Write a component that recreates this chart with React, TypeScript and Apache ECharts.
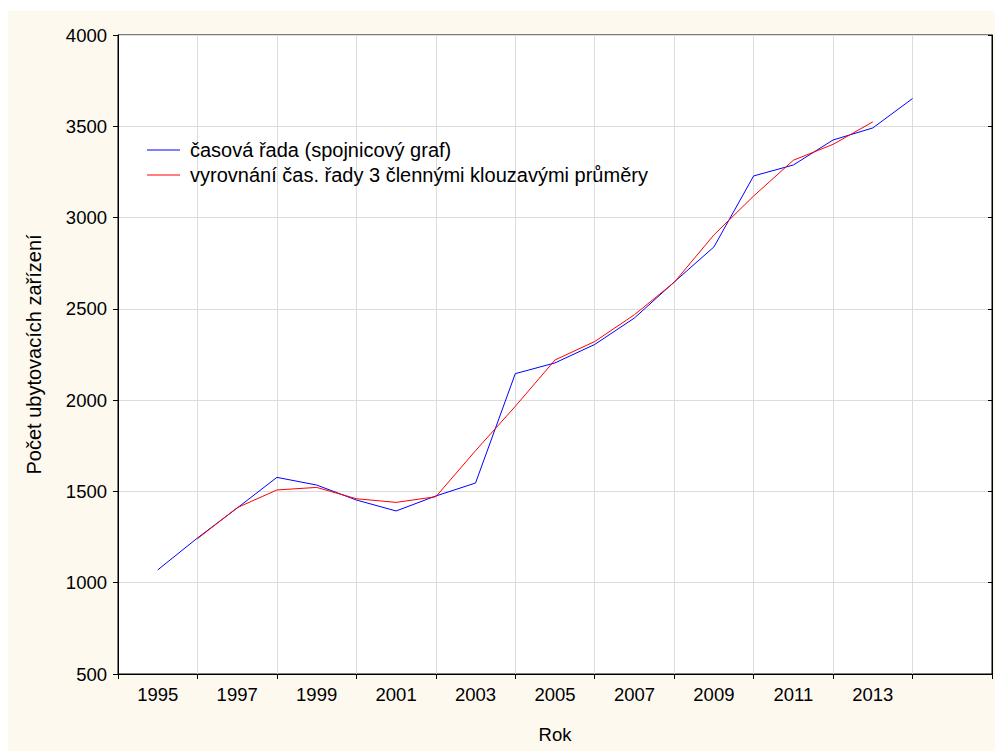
import React, { useEffect, useRef } from "react";
import * as echarts from "echarts";

const years = [1995, 1996, 1997, 1998, 1999, 2000, 2001, 2002, 2003, 2004, 2005, 2006, 2007, 2008, 2009, 2010, 2011, 2012, 2013, 2014];
const seriesValues = [1070, 1245, 1409, 1577, 1535, 1453, 1393, 1475, 1546, 2145, 2204, 2305, 2450, 2647, 2839, 3228, 3288, 3425, 3491, 3652];
const maYears = [1996, 1997, 1998, 1999, 2000, 2001, 2002, 2003, 2004, 2005, 2006, 2007, 2008, 2009, 2010, 2011, 2012, 2013];
const maValues = [1241, 1411, 1508, 1522, 1460, 1440, 1471, 1723, 1966, 2220, 2321, 2468, 2645, 2905, 3118, 3314, 3401, 3524];
const xTickLabels = ["1995", "1997", "1999", "2001", "2003", "2005", "2007", "2009", "2011", "2013"];
const seriesNames = ["časová řada (spojnicový graf)", "vyrovnání čas. řady 3 člennými klouzavými průměry"];

const FONT = "'Liberation Sans', Arial, sans-serif";

export default function App() {
  const ref = useRef<HTMLDivElement>(null);
  useEffect(() => {
    if (!ref.current) return;
    const chart = echarts.init(ref.current, null, { renderer: "svg" });
    chart.setOption({
      animation: false,
      backgroundColor: "#FDF9EF",
      textStyle: { fontFamily: FONT },
      grid: {
        left: 110,
        top: 24,
        right: 1,
        bottom: 77,
        show: true,
        backgroundColor: "#ffffff",
        borderColor: "#000000",
        borderWidth: 1,
      },
      legend: {
        orient: "vertical",
        left: 134,
        top: 124,
        icon: "rect",
        itemWidth: 33,
        itemHeight: 1,
        itemGap: 5,
        textStyle: { fontFamily: FONT, fontSize: 20, color: "#000", padding: [0, 0, 0, 5] },
        data: seriesNames,
      },
      xAxis: [
        {
          type: "value",
          min: 1994,
          max: 2016,
          interval: 2,
          axisLine: { show: true, lineStyle: { color: "#000", width: 1 } },
          axisTick: { show: true, length: 5, lineStyle: { color: "#000" } },
          axisLabel: { show: false },
          splitLine: { show: true, lineStyle: { color: "#dcdcdc", width: 1 } },
        },
        {
          type: "value",
          position: "bottom",
          min: 1994,
          max: 2016,
          interval: 1,
          axisLine: { show: false },
          axisTick: { show: false },
          splitLine: { show: false },
          axisLabel: {
            show: true,
            margin: 11,
            fontSize: 18.5,
            color: "#000",
            fontFamily: FONT,
            formatter: (v: number) => (xTickLabels.includes(String(v)) ? String(v) : ""),
          },
          name: "Rok",
          nameLocation: "middle",
          nameGap: 51,
          nameTextStyle: { fontSize: 18.5, color: "#000", fontFamily: FONT },
        },
      ],
      yAxis: [
        {
          type: "value",
          min: 500,
          max: 4000,
          interval: 500,
          axisLine: { show: true, lineStyle: { color: "#000", width: 1 } },
          axisTick: { show: true, length: 5, lineStyle: { color: "#000" } },
          axisLabel: { fontSize: 18.5, color: "#000", margin: 11, fontFamily: FONT, formatter: (v: number) => String(v) },
          splitLine: { show: true, lineStyle: { color: "#dcdcdc", width: 1 } },
          name: "Počet ubytovacích zařízení",
          nameLocation: "middle",
          nameRotate: 90,
          nameGap: 74,
          nameTextStyle: { fontSize: 20, color: "#000", fontFamily: FONT },
        },
        {
          type: "value",
          position: "right",
          min: 500,
          max: 4000,
          interval: 500,
          axisLine: { show: true, lineStyle: { color: "#000", width: 1 } },
          axisTick: { show: true, inside: true, length: 4, lineStyle: { color: "#000" } },
          axisLabel: { show: false },
          splitLine: { show: false },
        },
      ],
      series: [
        {
          name: seriesNames[0],
          type: "line",
          xAxisIndex: 0,
          yAxisIndex: 0,
          symbol: "none",
          lineStyle: { color: "#0000ff", width: 1 },
          itemStyle: { color: "#0000ff" },
          data: years.map((y, i) => [y, seriesValues[i]]),
        },
        {
          name: seriesNames[1],
          type: "line",
          xAxisIndex: 0,
          yAxisIndex: 0,
          symbol: "none",
          lineStyle: { color: "#ff0000", width: 1 },
          itemStyle: { color: "#ff0000" },
          data: maYears.map((y, i) => [y, maValues[i]]),
        },
      ],
    });
    return () => chart.dispose();
  }, []);
  return (
    <div
      ref={ref}
      style={{ position: "absolute", left: 8, top: 11, width: 987, height: 740 }}
    />
  );
}
